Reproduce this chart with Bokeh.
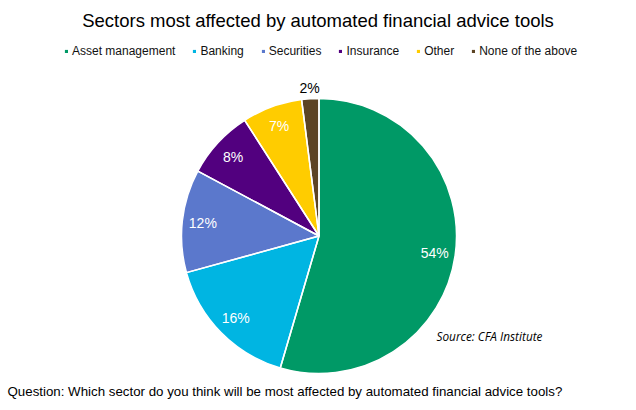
import math
from bokeh.plotting import figure
from bokeh.models import ColumnDataSource, Range1d, Legend, LegendItem
from bokeh.core.properties import value
from bokeh.embed import file_html
from bokeh.resources import INLINE

# survey data
sectors = ["Asset management", "Banking", "Securities", "Insurance", "Other", "None of the above"]
shares = [54, 16, 12, 8, 7, 2]
colors = ["#009966", "#00B5E2", "#5B78CC", "#52007F", "#FFCC00", "#5C4424"]

title_text = "Sectors most affected by automated financial advice tools"
source_text = "Source: CFA Institute"
question_text = "Question: Which sector do you think will be most affected by automated financial advice tools?"

# page geometry (data units == pixels, y measured upward from page bottom 410)
cx, cy, R = 318.5, 174.5, 137.5

total = float(sum(shares))
starts, ends, lx, ly, lcol = [], [], [], [], []
a = math.pi / 2
for s in shares:
    span = s / total * 2 * math.pi
    starts.append(a - span)
    ends.append(a)
    mid = a - span / 2
    r = R * 0.85 if s >= 5 else R * 1.075
    lx.append(cx + r * math.cos(mid))
    ly.append(cy + r * math.sin(mid))
    lcol.append("white" if s >= 5 else "black")
    a -= span

src = ColumnDataSource(dict(sector=sectors, start=starts, end=ends, color=colors))
lab = ColumnDataSource(dict(x=lx, y=ly, t=[f"{s}%" for s in shares], c=lcol))

p = figure(width=620, height=402, x_range=Range1d(0, 620), y_range=Range1d(8, 410),
           output_backend="svg", toolbar_location=None, min_border=0)
p.axis.visible = False
p.grid.visible = False
p.outline_line_color = None
p.background_fill_color = "white"
p.border_fill_color = "white"

# filled slices (also used by the legend), then white separators on top
w = p.wedge(x=cx, y=cy, radius=R, start_angle="start", end_angle="end",
            fill_color="color", line_color=None, source=src)
p.wedge(x=cx, y=cy, radius=R, start_angle="start", end_angle="end",
        fill_color=None, line_color="white", line_width=1.5, source=src)

p.text(x="x", y="y", text="t", text_color="c", source=lab, text_align="center",
       text_baseline="middle", text_font=value("Liberation Sans"), text_font_size="14px")

p.text(x=[317.5], y=[410 - 19.5], text=[title_text], text_align="center", text_baseline="middle",
       text_font=value("Liberation Sans"), text_font_size="18.5px", text_color="black")
p.text(x=[436], y=[410 - 335], text=[source_text], text_align="left", text_baseline="middle",
       text_font=value("Open Sans"), text_font_style="italic", text_font_size="11.8px",
       text_color="black")
p.text(x=[7], y=[410 - 390.5], text=[question_text], text_align="left", text_baseline="middle",
       text_font=value("Liberation Sans"), text_font_size="13.3px", text_color="black")

items = [LegendItem(label=s, renderers=[w], index=i) for i, s in enumerate(sectors)]
legend = Legend(items=items, orientation="horizontal", location=(64, 402 - 58),
                glyph_width=4, glyph_height=4, label_height=12, label_standoff=4,
                spacing=17, padding=0, margin=0, border_line_color=None,
                background_fill_alpha=0, label_text_font="Liberation Sans",
                label_text_font_size="12px", label_text_color="#111111")
p.add_layout(legend, "center")

open("out.html", "w").write(file_html(p, INLINE))
